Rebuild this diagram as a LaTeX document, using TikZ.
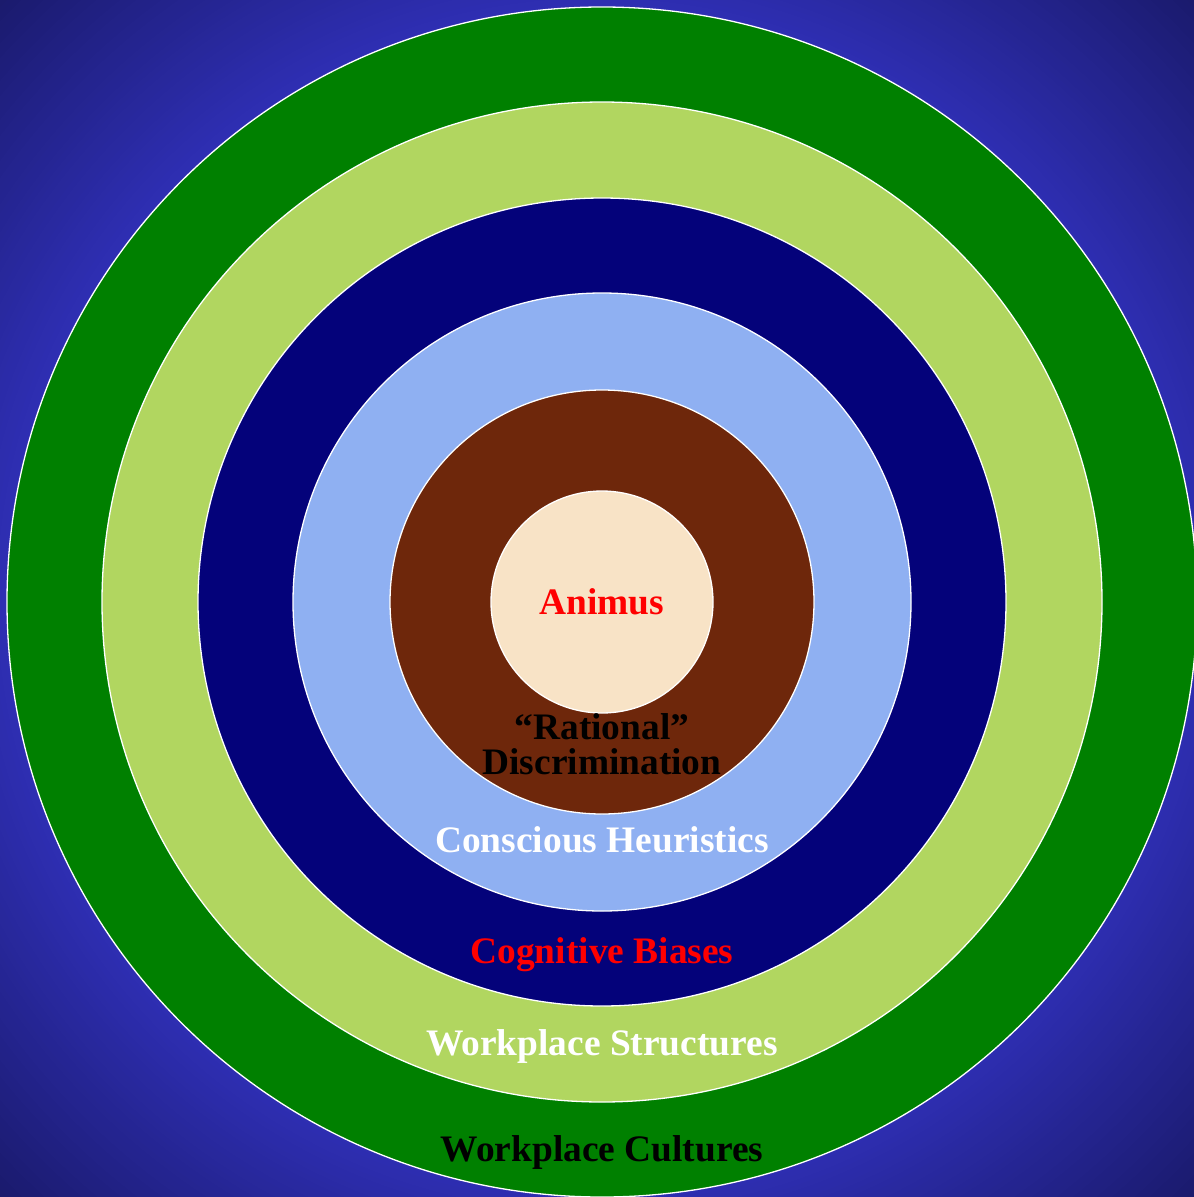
\documentclass[tikz,border=0pt]{standalone}
\usepackage{fontspec}
\setmainfont{Liberation Serif}
\definecolor{bgdark}{RGB}{26,26,108}
\definecolor{bgmid}{RGB}{46,46,178}
\definecolor{ringA}{RGB}{0,128,0}
\definecolor{ringB}{RGB}{177,214,96}
\definecolor{ringC}{RGB}{4,2,122}
\definecolor{ringD}{RGB}{143,176,242}
\definecolor{ringE}{RGB}{110,39,11}
\definecolor{ringF}{RGB}{248,227,198}
\begin{document}
\begin{tikzpicture}[x=1pt,y=1pt,
  ring/.style={circle,draw=white,line width=1.3pt,inner sep=0pt,outer sep=0pt},
  lbl/.style={font=\fontsize{37.4}{35}\selectfont\bfseries,anchor=base,inner sep=0pt,align=center}]
\begin{scope}
\clip (0,0) rectangle (1194,-1197);
\fill[bgdark] (0,0) rectangle (1194,-1197);
\foreach \r in {850,845,...,585}{
  \pgfmathtruncatemacro\p{max(0,min(100,(\r-595)/2.55))}
  \fill[bgdark!\p!bgmid] (597,-598) circle (\r);
}
\end{scope}
\useasboundingbox (0,0) rectangle (1194,-1197);
\node[ring,fill=ringA,minimum size=1190pt] (c1) at (602,-602) {};
\node[ring,fill=ringB,minimum size=1000pt] (c2) at (602,-602) {};
\node[ring,fill=ringC,minimum size=808pt] (c3) at (602,-602) {};
\node[ring,fill=ringD,minimum size=618pt] (c4) at (602,-602) {};
\node[ring,fill=ringE,minimum size=424pt] (c5) at (602,-602) {};
\node[ring,fill=ringF,minimum size=222pt] (c6) at (602,-602) {};
\node[lbl,text=red] (t1) at (602,-614) {Animus};
\node[lbl,text=black] (t2a) at (602,-739) {“Rational”};
\node[lbl,text=black] (t2b) at (602,-774) {Discrimination};
\node[lbl,text=white] (t3) at (602,-852) {Conscious Heuristics};
\node[lbl,text=red] (t4) at (602,-963) {Cognitive Biases};
\node[lbl,text=white] (t5) at (602,-1055) {Workplace Structures};
\node[lbl,text=black] (t6) at (602,-1161) {Workplace Cultures};
\end{tikzpicture}
\end{document}
